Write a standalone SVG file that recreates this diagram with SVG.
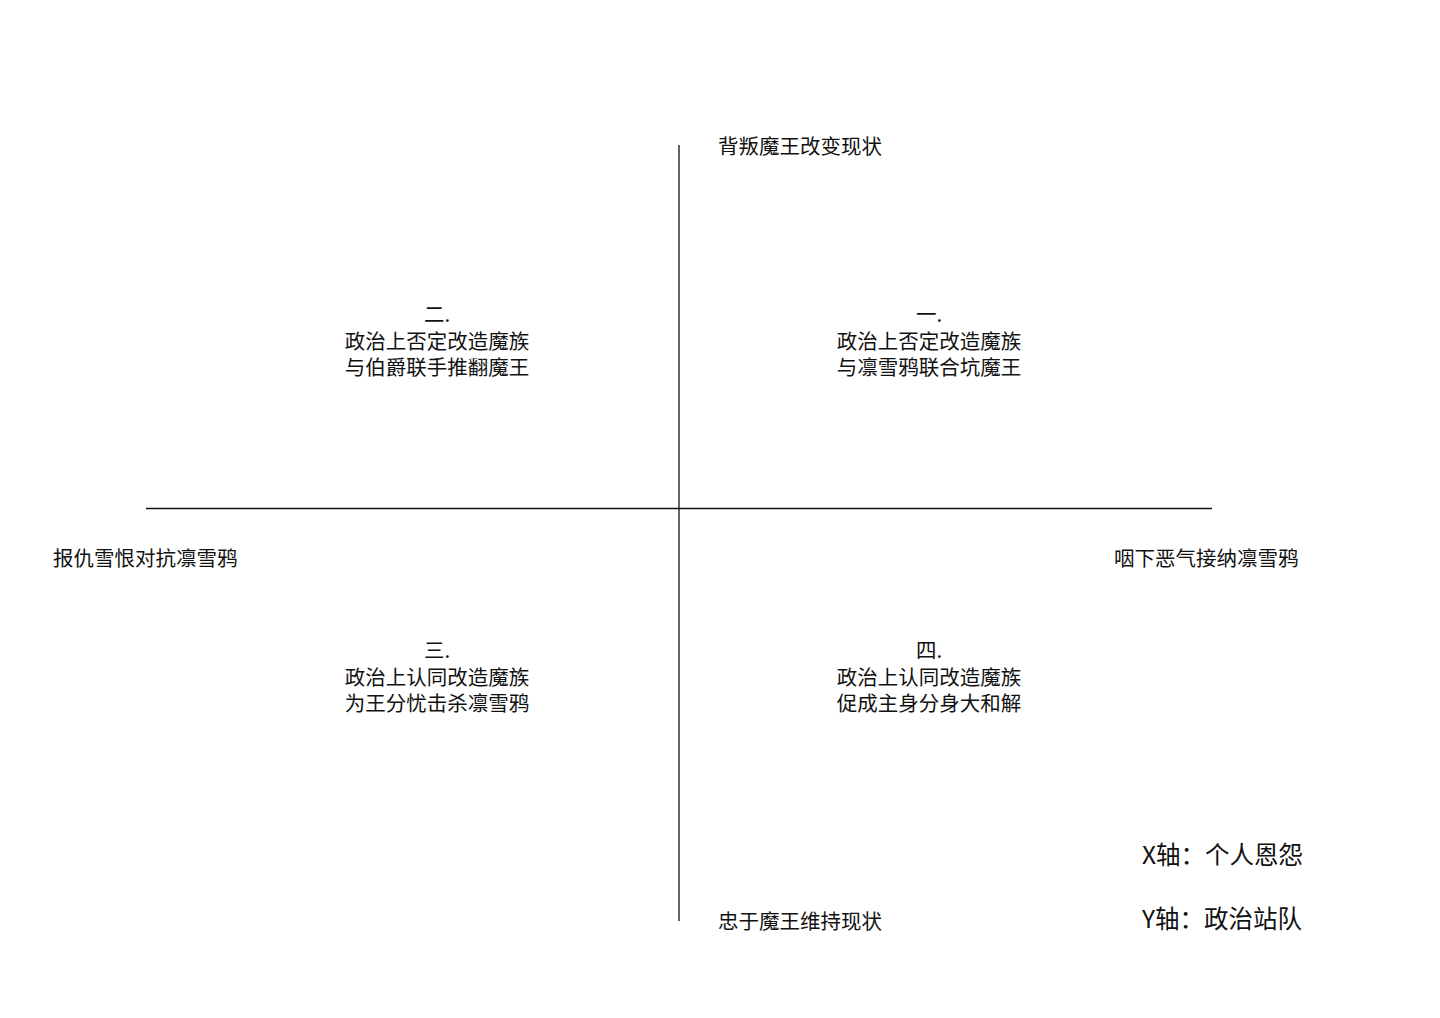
<svg xmlns="http://www.w3.org/2000/svg" width="1440" height="1018" viewBox="0 0 1440 1018">
<style>
text{font-family:"Noto Sans CJK SC","Noto Sans",sans-serif;fill:#111;font-size:20.5px}
.q{text-anchor:middle}
.big{font-size:24.5px}
line{stroke:#111;stroke-width:1.3}
</style>
<rect width="1440" height="1018" fill="#fff"/>
<g id="axes">
<line x1="679" y1="145" x2="679" y2="921"/>
<line x1="146" y1="508.5" x2="1212" y2="508.5"/>
</g>
<g id="top"><text x="718" y="154">背叛魔王改变现状</text></g>
<g id="bottom"><text x="718" y="929">忠于魔王维持现状</text></g>
<g id="left"><text x="53" y="566">报仇雪恨对抗凛雪鸦</text></g>
<g id="right"><text x="1114" y="566">咽下恶气接纳凛雪鸦</text></g>
<g id="q2"><text class="q" x="437" y="322"><tspan x="437">二.</tspan><tspan x="437" dy="26.5">政治上否定改造魔族</tspan><tspan x="437" dy="26.5">与伯爵联手推翻魔王</tspan></text></g>
<g id="q1"><text class="q" x="929" y="322"><tspan x="929">一.</tspan><tspan x="929" dy="26.5">政治上否定改造魔族</tspan><tspan x="929" dy="26.5">与凛雪鸦联合坑魔王</tspan></text></g>
<g id="q3"><text class="q" x="437" y="658"><tspan x="437">三.</tspan><tspan x="437" dy="26.5">政治上认同改造魔族</tspan><tspan x="437" dy="26.5">为王分忧击杀凛雪鸦</tspan></text></g>
<g id="q4"><text class="q" x="929" y="658"><tspan x="929">四.</tspan><tspan x="929" dy="26.5">政治上认同改造魔族</tspan><tspan x="929" dy="26.5">促成主身分身大和解</tspan></text></g>
<g id="legend"><text class="big" x="1142" y="864">X轴：个人恩怨</text><text class="big" x="1142" y="928">Y轴：政治站队</text></g>
</svg>
